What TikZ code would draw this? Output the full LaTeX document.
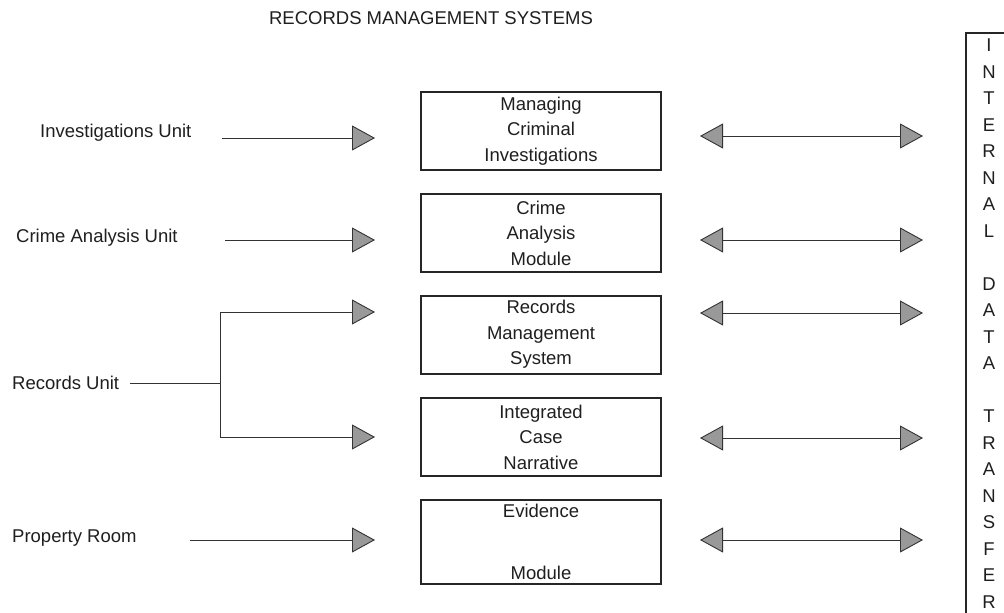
\documentclass[tikz,border=0pt]{standalone}
\usepackage{fontspec}
\setmainfont{Liberation Sans}
\usetikzlibrary{arrows.meta}
\begin{document}
\begin{tikzpicture}[x=1pt,y=-1pt,
  txt/.style={font=\fontsize{18.5}{25.5}\selectfont, text=black!88, inner sep=0pt},
  modbox/.style={txt, draw=black!85, line width=2pt, minimum width=240pt,
                 minimum height=78pt, align=center},
  unit/.style={txt, anchor=west},
  headtip/.tip={Triangle[length=23pt,width=25pt,fill=black!40]},
  wire/.style={draw=black!80, line width=0.9pt},
  feed/.style={wire, -headtip},
  swap/.style={wire, headtip-headtip},
  frame/.style={draw=black!85, line width=2.6pt}]

\useasboundingbox (0,0) rectangle (1004,613);
\fill[white] (0,0) rectangle (1004,613);
\clip (0,0) rectangle (1004,613);

% heading
\node[txt] (title) at (431,18) {RECORDS MANAGEMENT SYSTEMS};

% module boxes
\node[modbox] (m1) at (541,131)   {Managing\\Criminal\\Investigations};
\node[modbox] (m2) at (541,233)   {Crime\\Analysis\\Module};
\node[modbox] (m3) at (541,334.5) {Records\\Management\\System};
\node[modbox] (m4) at (541,437)   {Integrated\\Case\\Narrative};
\node[modbox, minimum height=84pt] (m5) at (541,542) {Evidence\\[36pt]Module};

% units feeding the modules
\node[unit] (u1) at (40,133) {Investigations Unit};
\node[unit] (u2) at (16,238) {Crime Analysis Unit};
\node[unit] (u3) at (12,383) {Records Unit};
\node[unit] (u4) at (12,538) {Property Room};

\coordinate (f1s) at (222,138);  \coordinate (f1e) at (375,138);
\coordinate (f2s) at (225,240);  \coordinate (f2e) at (375,240);
\coordinate (r0)  at (130,383);  \coordinate (rj)  at (220,383);
\coordinate (f3e) at (375,312);  \coordinate (f4e) at (375,437);
\coordinate (f5s) at (190,540);  \coordinate (f5e) at (375,540);

\draw[feed] (f1s) -- (f1e);
\draw[feed] (f2s) -- (f2e);
\draw[wire] (r0) -- (rj);
\draw[feed] (rj) |- (f3e);
\draw[feed] (rj) |- (f4e);
\draw[feed] (f5s) -- (f5e);

% internal data transfer column
\node[txt, align=center, font=\fontsize{18.5}{26.5}\selectfont] (idt) at (989,323.5)
  {I\\N\\T\\E\\R\\N\\A\\L\\[26.5pt]D\\A\\T\\A\\[26.5pt]T\\R\\A\\N\\S\\F\\E\\R};
\draw[frame] (1012,33) -- (966,33) -- (966,625);

% two-way links between modules and the transfer column
\coordinate (s1w) at (700,136); \coordinate (s1e) at (923,136);
\coordinate (s2w) at (700,240); \coordinate (s2e) at (923,240);
\coordinate (s3w) at (700,313); \coordinate (s3e) at (923,313);
\coordinate (s4w) at (700,438); \coordinate (s4e) at (923,438);
\coordinate (s5w) at (700,540); \coordinate (s5e) at (923,540);
\foreach \k in {1,...,5} \draw[swap] (s\k w) -- (s\k e);
\end{tikzpicture}
\end{document}
